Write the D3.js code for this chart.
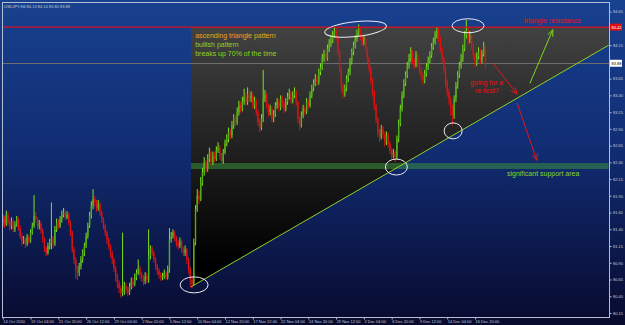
<!DOCTYPE html>
<html>
<head>
<meta charset="utf-8">
<title>USDJPY H4 ascending triangle</title>
<script src="https://d3js.org/d3.v7.min.js"></script>
<style>
body { margin: 0; background: #0a0c30; }
svg { display: block; font-family: "Liberation Sans", Arial, sans-serif; }
</style>
</head>
<body>
<script>
// chart header and price data (H4 bars, 14 Oct 2010 12:00 .. 17 Dec 2010 20:00)
const symbolTitle = "USDJPY,H4  84.13 84.14 83.80 83.88";
const firstOpen = 81.50;

const closes = [
  81.55,81.48,81.62,81.50,81.45,81.52,81.40,81.47,81.55,81.42,
  81.30,81.22,81.25,81.18,81.28,81.22,81.35,81.45,81.60,81.55,
  81.45,81.48,81.38,81.25,81.12,81.05,81.15,81.20,81.26,81.18,
  81.40,81.50,81.45,81.55,81.62,81.65,81.58,81.62,81.50,81.35,
  81.10,80.95,80.80,80.75,80.85,80.95,81.05,81.15,81.30,81.45,
  81.60,81.75,81.85,81.80,81.72,81.78,81.65,81.55,81.45,81.35,
  81.25,81.15,81.05,80.95,80.82,80.70,80.60,80.52,80.45,80.48,
  80.55,80.50,80.45,80.55,80.62,80.58,80.68,80.75,80.82,80.72,
  80.68,80.62,80.70,80.65,81.00,81.10,81.05,80.95,80.85,80.78,
  80.72,80.68,80.70,80.75,80.68,80.80,81.25,81.30,81.35,81.28,
  81.20,81.15,81.22,81.10,81.05,81.10,80.95,80.80,80.65,80.58,
  81.20,81.70,81.90,81.85,82.10,82.25,82.40,82.30,82.45,82.55,
  82.40,82.50,82.45,82.58,82.62,82.50,82.42,82.55,82.68,82.75,
  82.85,82.80,82.95,83.05,83.00,83.15,83.25,83.20,83.30,83.38,
  83.30,83.42,83.35,83.40,83.25,83.32,83.15,83.00,82.92,83.05,
  83.35,83.40,83.25,83.15,83.20,83.05,83.12,83.25,83.30,83.22,
  83.35,83.28,83.20,83.30,83.38,83.42,83.32,83.40,83.45,83.30,
  83.05,82.95,83.10,83.20,83.15,83.30,83.25,83.40,83.50,83.58,
  83.65,83.60,83.75,83.82,83.95,84.02,83.95,84.10,84.18,84.22,
  84.30,84.36,84.25,84.05,83.80,83.55,83.42,83.50,83.65,83.75,
  83.90,84.05,84.15,84.25,84.32,84.40,84.28,84.20,84.25,84.10,
  83.95,83.80,83.62,83.45,83.25,83.05,82.85,82.78,82.90,82.82,
  82.70,82.80,82.68,82.58,82.50,82.55,82.48,82.75,82.98,83.20,
  83.40,83.58,83.70,83.85,83.95,84.05,83.92,83.85,84.00,83.88,
  83.78,83.70,83.62,83.72,83.82,83.92,84.00,84.12,84.20,84.30,
  84.38,84.25,84.10,83.95,83.80,83.60,83.45,83.35,83.22,83.10,
  83.35,83.55,83.70,83.85,83.95,84.10,84.30,84.38,84.22,84.30,
  84.15,84.00,83.88,83.98,84.05,83.92,84.02,84.13,83.88
];

const highs = [
  81.62,81.60,81.68,81.66,81.56,81.58,81.55,81.52,81.60,81.58,
  81.46,81.34,81.30,81.28,81.33,81.31,81.40,81.50,81.91,81.66,
  81.58,81.54,81.52,81.41,81.28,81.15,81.20,81.26,81.80,81.30,
  81.45,81.56,81.55,81.60,81.68,81.72,81.70,81.67,81.65,81.53,
  81.38,81.14,80.98,80.86,80.90,81.00,81.10,81.20,81.35,81.50,
  81.66,81.82,82.00,81.90,81.84,81.84,81.80,81.68,81.58,81.48,
  81.38,81.28,81.18,81.08,80.98,80.85,80.74,80.64,80.56,81.35,
  80.62,80.60,80.55,80.60,80.68,80.68,80.74,80.80,80.95,80.86,
  80.77,80.72,80.76,80.75,81.40,81.16,81.15,81.08,80.98,80.88,
  80.82,80.76,80.75,80.80,80.78,80.86,81.42,81.36,81.40,81.38,
  81.30,81.24,81.28,81.25,81.14,81.16,81.12,80.98,80.84,80.70,
  81.26,81.76,82.00,81.98,82.18,82.32,82.48,82.44,82.52,82.62,
  82.58,82.56,82.56,82.64,82.70,82.66,82.54,82.60,82.74,82.82,
  82.92,82.90,83.02,83.12,83.10,83.22,83.32,83.30,83.38,83.50,
  83.44,83.52,83.48,83.46,83.44,83.38,83.35,83.18,83.05,83.12,
  83.78,83.48,83.44,83.28,83.26,83.24,83.18,83.30,83.36,83.34,
  83.40,83.40,83.32,83.36,83.44,83.50,83.46,83.46,83.52,83.48,
  83.32,83.08,83.16,83.26,83.24,83.36,83.34,83.46,83.56,83.64,
  83.72,83.70,83.80,83.88,84.02,84.08,84.06,84.16,84.24,84.30,
  84.36,84.42,84.40,84.28,84.08,83.84,83.58,83.56,83.70,83.80,
  83.96,84.10,84.20,84.30,84.38,84.46,84.42,84.32,84.30,84.28,
  84.12,83.98,83.84,83.66,83.48,83.28,83.08,82.90,82.96,82.94,
  82.86,82.86,82.84,82.72,82.62,82.60,82.58,82.80,83.04,83.26,
  83.46,83.64,83.76,83.90,84.02,84.12,84.08,83.96,84.06,84.04,
  83.92,83.82,83.74,83.78,83.88,83.98,84.06,84.18,84.26,84.36,
  84.42,84.40,84.28,84.12,83.98,83.84,83.64,83.50,83.38,83.26,
  83.40,83.60,83.76,83.90,84.02,84.16,84.36,84.53,84.42,84.36,
  84.34,84.18,84.04,84.04,84.12,84.10,84.08,84.20,84.14
];

const lows = [
  81.44,81.42,81.45,81.46,81.38,81.40,81.35,81.36,81.44,81.38,
  81.26,81.16,81.18,81.12,81.15,81.18,81.20,81.32,81.42,81.50,
  81.40,81.40,81.34,81.20,81.06,81.00,81.02,81.10,81.10,81.12,
  81.15,81.36,81.40,81.42,81.50,81.58,81.54,81.55,81.46,81.30,
  81.05,80.88,80.66,80.64,80.70,80.80,80.90,81.00,81.12,81.26,
  81.42,81.56,81.70,81.74,81.66,81.68,81.60,81.50,81.40,81.30,
  81.18,81.10,80.98,80.88,80.76,80.62,80.52,80.45,80.38,80.40,
  80.42,80.44,80.40,80.42,80.50,80.52,80.55,80.64,80.72,80.66,
  80.62,80.56,80.58,80.60,80.60,80.95,81.00,80.90,80.80,80.72,
  80.66,80.63,80.64,80.66,80.64,80.65,80.75,81.20,81.26,81.22,
  81.14,81.10,81.12,81.05,81.00,81.00,80.88,80.74,80.53,80.52,
  80.56,81.16,81.66,81.78,81.82,82.05,82.20,82.24,82.26,82.40,
  82.34,82.36,82.40,82.42,82.54,82.44,82.36,82.38,82.52,82.64,
  82.70,82.74,82.76,82.90,82.94,82.96,83.10,83.14,83.16,83.26,
  83.24,83.26,83.30,83.30,83.20,83.20,83.10,82.94,82.85,82.88,
  83.00,83.30,83.20,83.08,83.10,83.00,83.00,83.08,83.20,83.16,
  83.18,83.22,83.14,83.16,83.26,83.34,83.28,83.28,83.36,83.24,
  82.98,82.88,82.92,83.06,83.10,83.12,83.20,83.22,83.36,83.46,
  83.54,83.55,83.56,83.70,83.78,83.90,83.90,83.92,84.05,84.12,
  84.18,84.26,84.20,84.00,83.74,83.45,83.36,83.38,83.46,83.60,
  83.70,83.86,84.00,84.10,84.20,84.28,84.22,84.14,84.15,84.04,
  83.88,83.74,83.56,83.38,83.18,82.98,82.78,82.70,82.74,82.76,
  82.64,82.66,82.62,82.52,82.45,82.46,82.40,82.44,82.70,82.94,
  83.16,83.36,83.54,83.66,83.80,83.90,83.86,83.80,83.82,83.82,
  83.72,83.64,83.56,83.58,83.68,83.78,83.88,83.96,84.08,84.16,
  84.25,84.20,84.04,83.88,83.74,83.52,83.38,83.26,83.10,82.95,
  83.05,83.30,83.50,83.66,83.80,83.90,84.06,84.25,84.16,84.18,
  84.08,83.94,83.82,83.84,83.94,83.86,83.88,83.98,83.80
];

// time axis labels, one every 16 bars
const dateLabels = ["14 Oct 2010","19 Oct 04:00","21 Oct 20:00","26 Oct 12:00","29 Oct 04:00",
  "2 Nov 20:00","5 Nov 12:00","10 Nov 04:00","12 Nov 20:00","17 Nov 12:00","22 Nov 04:00",
  "24 Nov 20:00","29 Nov 12:00","2 Dec 04:00","6 Dec 20:00","9 Dec 12:00","14 Dec 04:00","16 Dec 20:00"];
const dateBars = dateLabels.map((d, i) => i * 16);

const priceTicks = [80.15,80.40,80.65,80.90,81.15,81.40,81.65,81.90,82.15,82.40,
  82.65,82.90,83.15,83.40,83.65,83.90,84.15,84.40,84.65];

// drawn levels
const resistance = 84.42;
const lastPrice = 83.88;
const supportBand = [82.30, 82.39];
const trendStart = { bar: 108.4, price: 80.54 };
const trendEnd = { bar: 349, price: 84.15 };

// annotations in bar / price coordinates
const notes = [
  { text: "ascending triangle pattern", bar: 110.8, price: 84.25, color: "#e8a41c" },
  { text: "bullish pattern", bar: 110.8, price: 84.12, color: "#86d81c" },
  { text: "breaks up 70% of the time", bar: 110.8, price: 83.99, color: "#86d81c" },
  { text: "triangle resistance", bar: 300.2, price: 84.48, color: "#e01818" },
  { text: "going for a", bar: 269.2, price: 83.56, color: "#e01818" },
  { text: "re-test?", bar: 272, price: 83.44, color: "#e01818" },
  { text: "significant support area", bar: 290.4, price: 82.20, color: "#86d81c" }
];
const ellipses = [
  { bar: 110.2, price: 80.57, rx: 14, ry: 8, rot: 0 },
  { bar: 203.2, price: 84.39, rx: 31, ry: 7.5, rot: -6 },
  { bar: 268.0, price: 84.44, rx: 16, ry: 7, rot: 0 },
  { bar: 226.7, price: 82.33, rx: 11, ry: 8, rot: 0 },
  { bar: 259.4, price: 82.87, rx: 9, ry: 8, rot: 0 }
];
const arrows = [
  { from: [303.6, 83.58], to: [316.8, 84.38], color: "#7fd81c" },
  { from: [282.4, 83.88], to: [296.2, 83.42], color: "#e01818" },
  { from: [296.2, 83.29], to: [307.6, 82.43], color: "#e01818" }
];

const W = 625, H = 325;
const plot = { left: 2, top: 2, right: 609, bottom: 317 };

const x = d3.scaleLinear().domain([0, 349]).range([2.8, 608.7]);
const y = d3.scaleLinear().domain([80.15, 84.65]).range([313, 11.7]);

const svg = d3.select("body").append("svg")
    .attr("width", W)
    .attr("height", H);

const defs = svg.append("defs");
const bg = defs.append("linearGradient").attr("id", "bg")
    .attr("x1", 0).attr("y1", 0).attr("x2", 0).attr("y2", 1);
bg.append("stop").attr("offset", "0%").attr("stop-color", "#18418f");
bg.append("stop").attr("offset", "45%").attr("stop-color", "#112d73");
bg.append("stop").attr("offset", "100%").attr("stop-color", "#080a2e");

const dark = defs.append("linearGradient").attr("id", "dark")
    .attr("gradientUnits", "userSpaceOnUse")
    .attr("x1", 0).attr("y1", y(resistance)).attr("x2", 0).attr("y2", y(80.9));
dark.append("stop").attr("offset", "0%").attr("stop-color", "#424242");
dark.append("stop").attr("offset", "100%").attr("stop-color", "#000000");

defs.append("clipPath").attr("id", "clip")
  .append("rect")
    .attr("x", plot.left).attr("y", plot.top)
    .attr("width", plot.right - plot.left).attr("height", plot.bottom - plot.top);

svg.append("rect").attr("width", W).attr("height", H).attr("fill", "url(#bg)");

const g = svg.append("g").attr("clip-path", "url(#clip)");

// shaded triangle area
const tri = [
  [x(trendStart.bar), y(trendStart.price)],
  [x(trendStart.bar), y(resistance)],
  [x(trendEnd.bar), y(resistance)],
  [x(trendEnd.bar), y(trendEnd.price)]
];
g.append("path")
    .attr("d", d3.line()(tri) + "Z")
    .attr("fill", "url(#dark)");

// support band
g.append("rect")
    .attr("x", x(trendStart.bar))
    .attr("y", y(supportBand[1]))
    .attr("width", x(trendEnd.bar) - x(trendStart.bar))
    .attr("height", y(supportBand[0]) - y(supportBand[1]))
    .attr("fill", "#3c9a3c")
    .attr("opacity", 0.5);

// last price line
g.append("line")
    .attr("x1", plot.left).attr("x2", plot.right)
    .attr("y1", Math.round(y(lastPrice)) + 0.5).attr("y2", Math.round(y(lastPrice)) + 0.5)
    .attr("stroke", "#6e6e6e").attr("stroke-width", 1);

// candles
const bars = closes.map((c, i) => ({
  i: i,
  open: i === 0 ? firstOpen : closes[i - 1],
  close: c,
  high: highs[i],
  low: lows[i]
}));

const candle = g.append("g").selectAll("g")
  .data(bars)
  .join("g");

candle.append("line")
    .attr("x1", d => x(d.i)).attr("x2", d => x(d.i))
    .attr("y1", d => y(d.high)).attr("y2", d => y(d.low))
    .attr("stroke", d => d.close >= d.open ? "#80e01a" : "#d81414")
    .attr("stroke-width", 1);

candle.append("rect")
    .attr("x", d => x(d.i) - 0.7)
    .attr("width", 1.4)
    .attr("y", d => y(Math.max(d.open, d.close)))
    .attr("height", d => Math.max(1, Math.abs(y(d.open) - y(d.close))))
    .attr("fill", d => d.close >= d.open ? "#4fae1c" : "#d81414");

// resistance line
g.append("line")
    .attr("x1", plot.left).attr("x2", plot.right)
    .attr("y1", y(resistance)).attr("y2", y(resistance))
    .attr("stroke", "#d81020").attr("stroke-width", 1.2);

// trend line
g.append("line")
    .attr("x1", x(trendStart.bar)).attr("y1", y(trendStart.price))
    .attr("x2", x(trendEnd.bar)).attr("y2", y(trendEnd.price))
    .attr("stroke", "#8fd02a").attr("stroke-width", 1);

// ellipses
g.selectAll("ellipse.mark")
  .data(ellipses)
  .join("ellipse")
    .attr("class", "mark")
    .attr("cx", 0).attr("cy", 0)
    .attr("rx", d => d.rx).attr("ry", d => d.ry)
    .attr("transform", d => `translate(${x(d.bar)},${y(d.price)}) rotate(${d.rot})`)
    .attr("fill", "none")
    .attr("stroke", "#e8e8f0")
    .attr("stroke-width", 1);

// arrows
arrows.forEach(a => {
  const x1 = x(a.from[0]), y1 = y(a.from[1]);
  const x2 = x(a.to[0]), y2 = y(a.to[1]);
  const ang = Math.atan2(y2 - y1, x2 - x1);
  const len = 7, spread = 0.4;
  g.append("path")
    .attr("d", `M${x1},${y1}L${x2},${y2}` +
      `M${x2 - len * Math.cos(ang - spread)},${y2 - len * Math.sin(ang - spread)}L${x2},${y2}` +
      `L${x2 - len * Math.cos(ang + spread)},${y2 - len * Math.sin(ang + spread)}`)
    .attr("fill", "none")
    .attr("stroke", a.color)
    .attr("stroke-width", 1);
});

// annotation text
g.selectAll("text.note")
  .data(notes)
  .join("text")
    .attr("class", "note")
    .attr("x", d => x(d.bar))
    .attr("y", d => y(d.price))
    .attr("fill", d => d.color)
    .attr("font-size", "7px")
    .text(d => d.text);

// frame
svg.append("rect")
    .attr("x", plot.left + 0.5).attr("y", plot.top + 0.5)
    .attr("width", plot.right - plot.left).attr("height", plot.bottom - plot.top)
    .attr("fill", "none")
    .attr("stroke", "#b4bdd2")
    .attr("stroke-width", 1);

// title
svg.append("text")
    .attr("x", 4).attr("y", 7.5)
    .attr("fill", "#c8ccd6")
    .attr("font-size", "4px")
    .text(symbolTitle);

// price boxes on the axis
const boxes = [
  { price: resistance, fill: "#e01010", color: "#ffffff" },
  { price: lastPrice, fill: "#ffffff", color: "#000000" }
];

// price axis (labels hidden where a price box sits)
const yAxis = svg.append("g")
    .attr("transform", `translate(${plot.right + 0.5},0)`)
    .call(d3.axisRight(y).tickValues(priceTicks).tickSize(2).tickPadding(1.5)
      .tickFormat(d3.format(".2f")));
yAxis.select(".domain").remove();
yAxis.selectAll("line").attr("stroke", "#b4bdd2");
yAxis.selectAll("text").attr("fill", "#c8ccd6").attr("font-size", "4px")
    .attr("font-family", "Liberation Sans, Arial, sans-serif")
    .filter(d => boxes.some(b => Math.abs(y(b.price) - y(d)) < 7))
    .remove();

// time axis
const xAxis = svg.append("g")
    .attr("transform", `translate(0,${plot.bottom + 0.5})`)
    .call(d3.axisBottom(x).tickValues(dateBars).tickSize(2).tickPadding(1)
      .tickFormat((d, i) => dateLabels[i]));
xAxis.select(".domain").remove();
xAxis.selectAll("line").attr("stroke", "#b4bdd2");
xAxis.selectAll("text").attr("fill", "#c8ccd6").attr("font-size", "4px")
    .attr("text-anchor", "start")
    .attr("font-family", "Liberation Sans, Arial, sans-serif");

const box = svg.selectAll("g.box")
  .data(boxes)
  .join("g")
    .attr("class", "box")
    .attr("transform", d => `translate(${plot.right + 1},${y(d.price)})`);
box.append("rect")
    .attr("x", 0).attr("y", -3.5)
    .attr("width", 12).attr("height", 7)
    .attr("fill", d => d.fill);
box.append("text")
    .attr("x", 1.5).attr("y", 1.5)
    .attr("fill", d => d.color)
    .attr("font-size", "4px")
    .text(d => d3.format(".2f")(d.price));
</script>
</body>
</html>
